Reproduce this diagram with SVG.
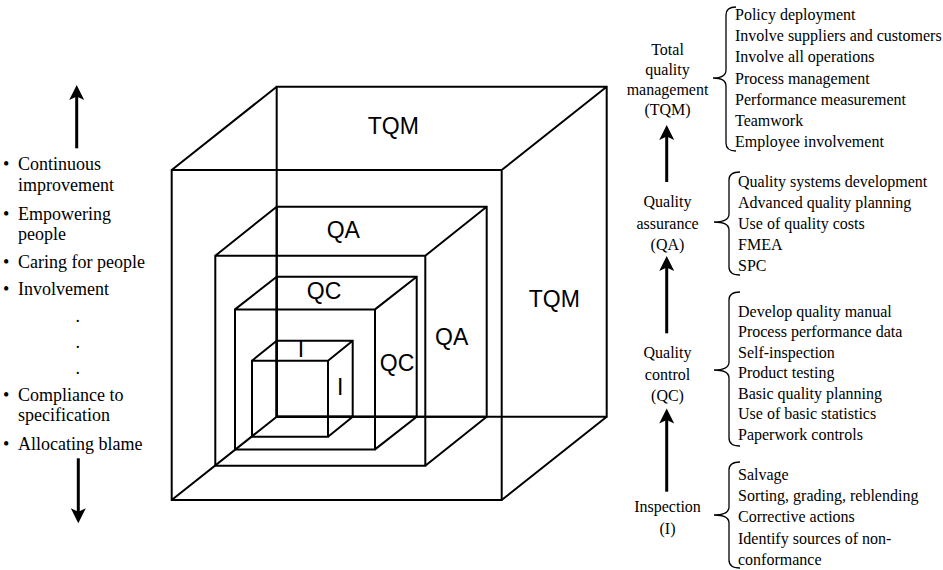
<svg xmlns="http://www.w3.org/2000/svg" width="943" height="570" viewBox="0 0 943 570">
<style>
.cube{fill:none;stroke:#000;stroke-width:2;stroke-linejoin:miter}
.lab{font-family:"Liberation Sans",Arial,sans-serif;font-size:23px;fill:#000;text-anchor:middle}
.ser{font-family:"Liberation Serif","Times New Roman",serif;font-size:16px;fill:#000}
.mid{text-anchor:middle}
.left{font-family:"Liberation Serif","Times New Roman",serif;font-size:18px;fill:#000}
.brace{fill:none;stroke:#000;stroke-width:1.3}
.arr{fill:none;stroke:#000;stroke-width:3;marker-end:url(#ah)}
</style>
<defs>
<marker id="ah" markerWidth="16" markerHeight="16" refX="5" refY="8" orient="auto" markerUnits="userSpaceOnUse">
<path d="M0,0.5 L15,8 L0,15.5 L3.5,8 Z" fill="#000"/>
</marker>
</defs>
<rect width="943" height="570" fill="#fff"/>

<g id="cube-tqm">
<path class="cube" d="M171.7,170 H501.7 V500 H171.7 Z M276.7,86.7 H606.7 V416.7 H276.7 Z M171.7,170 L276.7,86.7 M501.7,170 L606.7,86.7 M501.7,500 L606.7,416.7 M171.7,500 L276.7,416.7"/>
<text class="lab" x="393.3" y="134.3">TQM</text>
<text class="lab" x="554.3" y="306.7">TQM</text>
</g>
<g id="cube-qa">
<path class="cube" d="M215.3,255.7 H425.3 V465.7 H215.3 Z M276.7,206.7 H486.7 V416.7 H276.7 Z M215.3,255.7 L276.7,206.7 M425.3,255.7 L486.7,206.7 M425.3,465.7 L486.7,416.7"/>
<text class="lab" x="343.3" y="238">QA</text>
<text class="lab" x="451.7" y="345">QA</text>
</g>
<g id="cube-qc">
<path class="cube" d="M235,309.4 H375 V449.4 H235 Z M276.7,276.7 H416.7 V416.7 H276.7 Z M235,309.4 L276.7,276.7 M375,309.4 L416.7,276.7 M375,449.4 L416.7,416.7"/>
<text class="lab" x="324" y="299">QC</text>
<text class="lab" x="397" y="371">QC</text>
</g>
<g id="cube-i">
<path class="cube" d="M252,360.7 H328 V436.7 H252 Z M276.7,340.7 H352.7 V416.7 H276.7 Z M252,360.7 L276.7,340.7 M328,360.7 L352.7,340.7 M328,436.7 L352.7,416.7"/>
<text class="lab" x="301" y="356.7">I</text>
<text class="lab" x="340.3" y="395">I</text>
</g>

<g id="left-list" class="left">
<text y="170"><tspan x="3">•</tspan><tspan x="18">Continuous</tspan></text>
<text x="18" y="191">improvement</text>
<text y="220"><tspan x="3">•</tspan><tspan x="18">Empowering</tspan></text>
<text x="18" y="240">people</text>
<text y="268"><tspan x="3">•</tspan><tspan x="18">Caring for people</tspan></text>
<text y="295"><tspan x="3">•</tspan><tspan x="18">Involvement</tspan></text>
<text x="77.7" y="322" text-anchor="middle">.</text>
<text x="77.7" y="348" text-anchor="middle">.</text>
<text x="77.7" y="374" text-anchor="middle">.</text>
<text y="401"><tspan x="3">•</tspan><tspan x="18">Compliance to</tspan></text>
<text x="18" y="421">specification</text>
<text y="450"><tspan x="3">•</tspan><tspan x="18">Allocating blame</tspan></text>
</g>

<g id="node-tqm" class="ser">
<text class="mid" x="667.5" y="55">Total</text>
<text class="mid" x="667.5" y="75">quality</text>
<text class="mid" x="667.5" y="95">management</text>
<text class="mid" x="667.5" y="115">(TQM)</text>
<path class="brace" d="M736,7 Q726,7 726,15 L726,70 Q726,78 713,78 Q726,78 726,86 L726,143 Q726,151 736,151"/>
<text x="735" y="20">Policy deployment</text>
<text x="735" y="41.2">Involve suppliers and customers</text>
<text x="735" y="62.4">Involve all operations</text>
<text x="735" y="83.6">Process management</text>
<text x="735" y="104.8">Performance measurement</text>
<text x="735" y="126">Teamwork</text>
<text x="735" y="147.2">Employee involvement</text>
</g>

<g id="node-qa" class="ser">
<text class="mid" x="667.5" y="207">Quality</text>
<text class="mid" x="667.5" y="228.5">assurance</text>
<text class="mid" x="667.5" y="250">(QA)</text>
<path class="brace" d="M740,172 Q729,172 729,180 L729,214 Q729,222 714,222 Q729,222 729,230 L729,267 Q729,275 740,275"/>
<text x="738" y="186.5">Quality systems development</text>
<text x="738" y="207.5">Advanced quality planning</text>
<text x="738" y="228.5">Use of quality costs</text>
<text x="738" y="249.5">FMEA</text>
<text x="738" y="270.5">SPC</text>
</g>

<g id="node-qc" class="ser">
<text class="mid" x="667.5" y="358">Quality</text>
<text class="mid" x="667.5" y="379.5">control</text>
<text class="mid" x="667.5" y="401">(QC)</text>
<path class="brace" d="M740,292 Q729,292 729,300 L729,362 Q729,370 714,370 Q729,370 729,378 L729,438 Q729,446 740,446"/>
<text x="738" y="316.5">Develop quality manual</text>
<text x="738" y="337">Process performance data</text>
<text x="738" y="357.5">Self-inspection</text>
<text x="738" y="378">Product testing</text>
<text x="738" y="398.5">Basic quality planning</text>
<text x="738" y="419">Use of basic statistics</text>
<text x="738" y="439.5">Paperwork controls</text>
</g>

<g id="node-i" class="ser">
<text class="mid" x="667.5" y="512">Inspection</text>
<text class="mid" x="667.5" y="533.5">(I)</text>
<path class="brace" d="M740,462 Q729,462 729,470 L729,507 Q729,515 714,515 Q729,515 729,523 L729,560 Q729,568 740,568"/>
<text x="738" y="480">Salvage</text>
<text x="738" y="501">Sorting, grading, reblending</text>
<text x="738" y="522">Corrective actions</text>
<text x="738" y="543.5">Identify sources of non-</text>
<text x="738" y="564.5">conformance</text>
</g>

<g id="connectors">
<line class="arr" x1="76.7" y1="148.3" x2="76.7" y2="95"/>
<line class="arr" x1="78.3" y1="458.3" x2="78.3" y2="513.3"/>
<line class="arr" x1="666.7" y1="182" x2="666.7" y2="135"/>
<line class="arr" x1="666.7" y1="333.3" x2="666.7" y2="266"/>
<line class="arr" x1="666.7" y1="491.7" x2="666.7" y2="418.5"/>
</g>
</svg>
